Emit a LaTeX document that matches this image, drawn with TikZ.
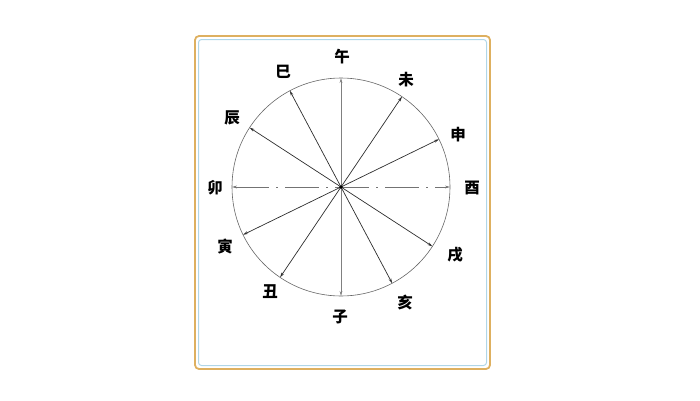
\documentclass[tikz,border=0pt]{standalone}
\usepackage{fontspec}
\usepackage{tikz}
\usetikzlibrary{arrows.meta}
\newfontfamily\cjk{Noto Sans CJK SC}
\definecolor{frameGold}{RGB}{222,176,96}
\definecolor{frameBlue}{RGB}{176,214,232}
\definecolor{spokeGray}{RGB}{45,45,45}

\begin{document}
\begin{tikzpicture}[x=1pt,y=1pt,
    spoke/.style={draw=spokeGray,line width=0.7pt,{Stealth[length=5pt,width=2.8pt]}-{Stealth[length=5pt,width=2.8pt]}},
    branch/.style={font=\cjk\bfseries\fontsize{15.5}{16}\selectfont,inner sep=0pt}]
    \useasboundingbox (0,0) rectangle (700,400);
    % frame
    \draw[frameGold,line width=1.8pt,rounded corners=4pt] (195,31) rectangle (490,364);
    \draw[frameBlue,line width=1pt,rounded corners=3pt] (198.5,34.5) rectangle (486.5,360.5);
    % dial
    \coordinate (O) at (341,213);
    \draw[black!60,line width=0.6pt] (O) circle (109);
    \foreach \a in {0,26,56,90,118,147}{
        \coordinate (s\a) at ([shift={(\a:109)}]O);
        \coordinate (t\a) at ([shift={(\a+180:109)}]O);
    }
    \draw[spoke,draw=black!55,dash pattern=on 34pt off 7pt on 2pt off 7pt] (t0) -- (s0);
    \draw[spoke,draw=black!50] (t90) -- (s90);
    \foreach \a in {26,56,118,147}
        \draw[spoke] (t\a) -- (s\a);
    \fill[black] (O) circle (1.8);
    % earthly branches
    \node[branch] (wu)   at (342,343) {午};
    \node[branch] (wei)  at (406,320) {未};
    \node[branch] (shen) at (458,265) {申};
    \node[branch] (you)  at (472,212) {酉};
    \node[branch] (xu)   at (455,145) {戌};
    \node[branch] (hai)  at (405,98)  {亥};
    \node[branch] (zi)   at (340,83)  {子};
    \node[branch] (chou) at (270,108) {丑};
    \node[branch] (yin)  at (225,153) {寅};
    \node[branch] (mao)  at (215,212) {卯};
    \node[branch] (chen) at (232,282) {辰};
    \node[branch] (si)   at (283,328) {巳};
\end{tikzpicture}
\end{document}
